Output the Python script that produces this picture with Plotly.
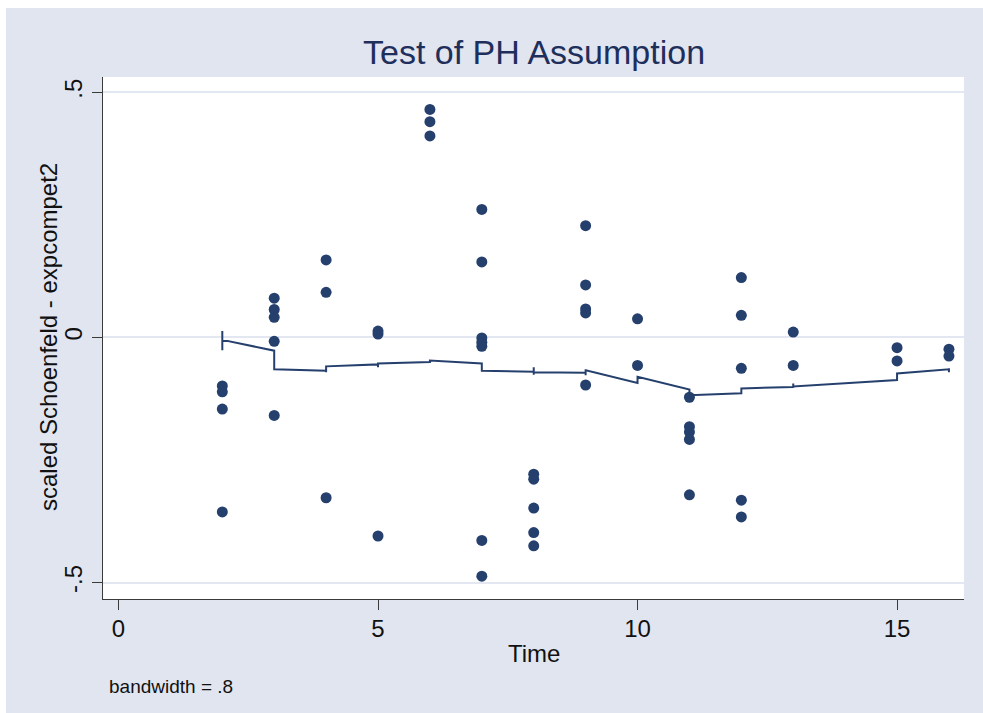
import plotly.graph_objects as go

# ---- data ----
pt_time = [2, 2, 2, 2,
           3, 3, 3, 3, 3,
           4, 4, 4,
           5, 5, 5,
           6, 6, 6,
           7, 7, 7, 7, 7, 7, 7,
           8, 8, 8, 8, 8,
           9, 9, 9, 9, 9,
           10, 10,
           11, 11, 11, 11, 11,
           12, 12, 12, 12, 12,
           13, 13,
           15, 15,
           16, 16]
pt_resid = [-0.099, -0.111, -0.146, -0.356,
            0.080, 0.057, 0.041, -0.008, -0.159,
            0.158, 0.092, -0.327,
            0.013, 0.007, -0.405,
            0.465, 0.440, 0.411,
            0.261, 0.154, -0.001, -0.010, -0.018, -0.414, -0.487,
            -0.279, -0.289, -0.348, -0.398, -0.425,
            0.228, 0.107, 0.058, 0.050, -0.097,
            0.038, -0.057,
            -0.122, -0.182, -0.193, -0.208, -0.321,
            0.122, 0.045, -0.063, -0.332, -0.366,
            0.011, -0.057,
            -0.021, -0.048,
            -0.024, -0.038]

line_time = [2, 2, 2,
             3, 3,
             4, 4, 4,
             5, 5, 5,
             6, 6,
             7, 7,
             8, 8, 8, 8,
             9, 9, 9, 9,
             10, 10,
             11, 11,
             12, 12,
             13, 13, 13,
             15, 15,
             16, 16, 16]
line_smooth = [0.013, -0.026, -0.005,
               -0.027, -0.065,
               -0.068, -0.071, -0.059,
               -0.055, -0.061, -0.053,
               -0.050, -0.047,
               -0.053, -0.068,
               -0.070, -0.061, -0.076, -0.071,
               -0.072, -0.077, -0.065, -0.067,
               -0.093, -0.080,
               -0.106, -0.118,
               -0.114, -0.104,
               -0.101, -0.094, -0.100,
               -0.087, -0.0735,
               -0.065, -0.071, -0.063]

x_tickvals = [0, 5, 10, 15]
x_ticktext = ["0", "5", "10", "15"]
y_tickvals = [-0.5, 0, 0.5]
y_ticktext = ["-.5", "0", ".5"]

title_text = "Test of PH Assumption"
x_title = "Time"
y_title = "scaled Schoenfeld - expcompet2"
note_text = "bandwidth = .8"

NAVY = "#26406e"
BG = "#e1e5f0"
FONT = "Liberation Sans, Arial, sans-serif"

fig = go.Figure()
fig.add_trace(go.Scatter(x=pt_time, y=pt_resid, mode="markers",
                         marker=dict(color=NAVY, size=11, line=dict(width=0)),
                         showlegend=False, hoverinfo="x+y"))
fig.add_trace(go.Scatter(x=line_time, y=line_smooth, mode="lines",
                         line=dict(color=NAVY, width=2),
                         showlegend=False, hoverinfo="x+y"))

L, R, T, B = 103, 19, 77, 114
W, H = 983, 713
pw, ph = W - L - R, H - T - B

def px_x(px):
    return (px - L) / pw

def px_y(py):
    return (H - B - py) / ph

fig.update_layout(
    width=W, height=H,
    margin=dict(l=L, r=R, t=T, b=B, pad=0),
    paper_bgcolor=BG, plot_bgcolor="white",
    font=dict(family=FONT, color="#111111"),
    xaxis=dict(range=[-0.2987, 16.29], tickvals=x_tickvals, ticktext=x_ticktext,
               showgrid=False, zeroline=False, showline=True, linecolor="#3a3a3a",
               linewidth=1.3, ticks="outside", ticklen=10, tickwidth=1.3,
               tickcolor="#3a3a3a", tickfont=dict(size=24, color="#111111"),
               ticklabelstandoff=-2, fixedrange=True),
    yaxis=dict(range=[-0.5335, 0.5312], tickvals=y_tickvals, ticktext=y_ticktext,
               showgrid=True, gridcolor="#e3e7f1", gridwidth=2.2, zeroline=False,
               showline=True, linecolor="#3a3a3a", linewidth=1.3,
               ticks="outside", ticklen=10, tickwidth=1.3, tickcolor="#3a3a3a",
               tickangle=-90, tickfont=dict(size=24, color="#111111"),
               ticklabelstandoff=0, fixedrange=True),
    shapes=[
        dict(type="rect", xref="paper", yref="paper", x0=px_x(-5), x1=px_x(W + 5),
             y0=px_y(8), y1=px_y(-5), fillcolor="white", line=dict(width=0), layer="below"),
        dict(type="rect", xref="paper", yref="paper", x0=px_x(-5), x1=px_x(6),
             y0=px_y(H + 5), y1=px_y(-5), fillcolor="white", line=dict(width=0), layer="below"),
    ],
    annotations=[
        dict(text=title_text, xref="paper", yref="paper", x=px_x(533.5), y=px_y(52),
             xanchor="center", yanchor="middle", showarrow=False,
             font=dict(size=34, color="#1e2f5c", family=FONT)),
        dict(text=x_title, xref="paper", yref="paper", x=px_x(534), y=px_y(653),
             xanchor="center", yanchor="middle", showarrow=False,
             font=dict(size=24, color="#111111", family=FONT)),
        dict(text=y_title, xref="paper", yref="paper", x=px_x(48), y=px_y(337),
             xanchor="center", yanchor="middle", showarrow=False, textangle=-90,
             font=dict(size=24, color="#111111", family=FONT)),
        dict(text=note_text, xref="paper", yref="paper", x=px_x(107), y=px_y(686),
             xanchor="left", yanchor="middle", showarrow=False,
             font=dict(size=19, color="#111111", family=FONT)),
    ],
)

fig.write_html(
    "out.html",
    config={"displayModeBar": False},
    post_script="document.body.style.margin='0';document.body.style.padding='0';"
                "document.body.style.overflow='hidden';"
                "document.body.style.background='" + BG + "';"
                "document.documentElement.style.background='" + BG + "';",
)
